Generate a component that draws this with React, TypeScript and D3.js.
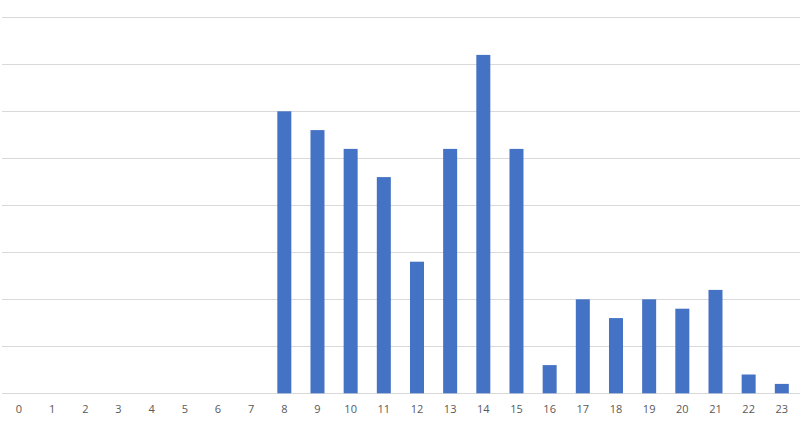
import React from "react";
import * as d3 from "d3";

const hours = ["0","1","2","3","4","5","6","7","8","9","10","11","12","13","14","15","16","17","18","19","20","21","22","23"];
const counts = [0,0,0,0,0,0,0,0,30,28,26,23,14,26,36,26,3,10,8,10,9,11,2,1];
const gridTicks = [0,5,10,15,20,25,30,35,40];

export default function App() {
  const W = 806, H = 423;
  const x = d3.scaleBand<string>().domain(hours).range([2.4, 798.4]);
  const y = d3.scaleLinear().domain([0, 40]).range([393.3, 17.3]);
  const bw = 14;
  return (
    <svg width={W} height={H} style={{ position: "absolute", left: 0, top: 0, background: "#fff" }}>
      {gridTicks.map((t) => (
        <line key={t} x1={2} x2={800} y1={Math.round(y(t)) + 0.5} y2={Math.round(y(t)) + 0.5} stroke="#d9d9d9" strokeWidth={1} />
      ))}
      {counts.map((v, i) => {
        const cx = (x(hours[i]) as number) + x.bandwidth() / 2;
        return v > 0 ? (
          <rect key={i} x={cx - bw / 2} y={y(v)} width={bw} height={y(0) - y(v)} fill="#4472c4" />
        ) : null;
      })}
      {hours.map((h) => (
        <text key={h} x={(x(h) as number) + x.bandwidth() / 2} y={413} textAnchor="middle"
          fontFamily="'Open Sans', 'Noto Sans', sans-serif" fontSize={11} fill="#595959">{h}</text>
      ))}
    </svg>
  );
}
